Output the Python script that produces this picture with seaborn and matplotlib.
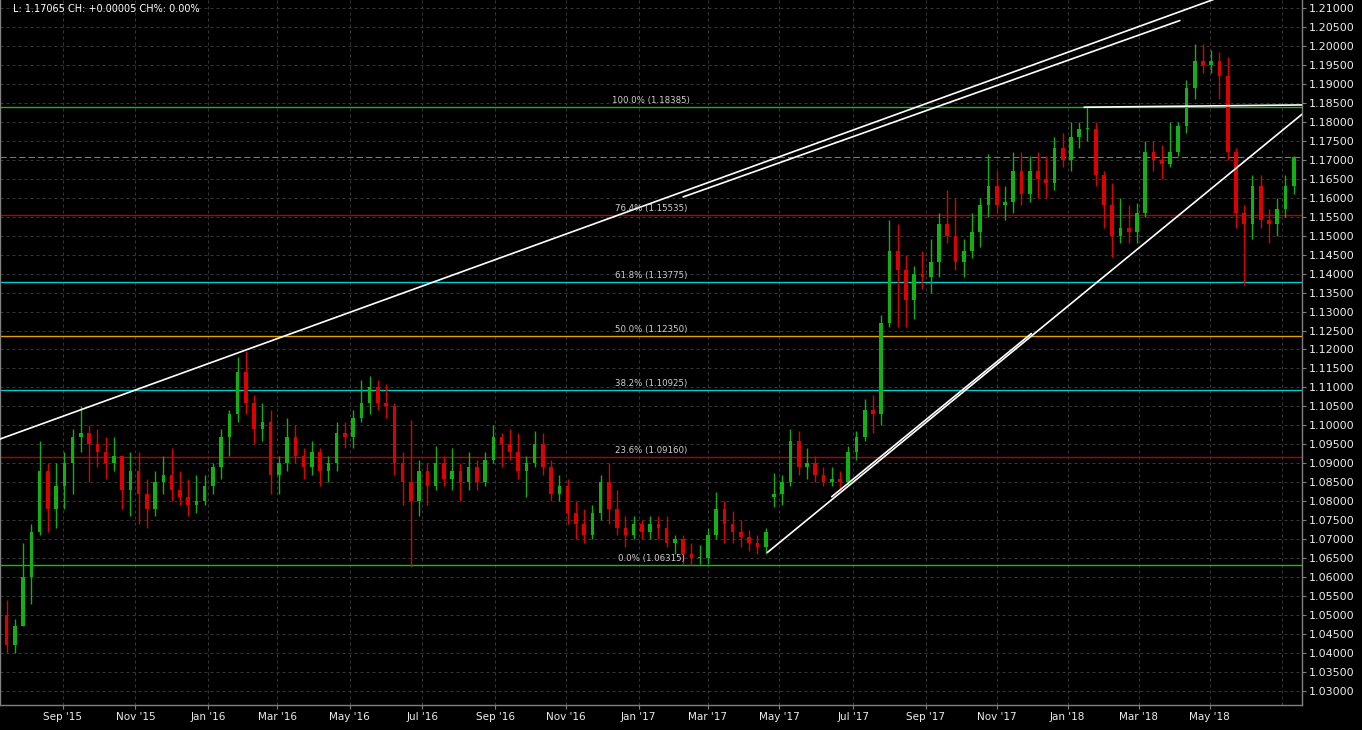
import numpy as np
import pandas as pd
import matplotlib
matplotlib.use("Agg")
import matplotlib.pyplot as plt
import matplotlib.transforms as mtransforms
import seaborn as sns

# ---------------- data (weekly OHLC) ----------------
week_start = pd.date_range("2015-07-13", periods=157, freq="W-MON")

opens = [1.050, 1.042, 1.047, 1.060, 1.072, 1.088, 1.078, 1.084, 1.090, 1.097,
         1.098, 1.095, 1.093, 1.090, 1.092, 1.083, 1.088, 1.082, 1.078, 1.085,
         1.087, 1.083, 1.081, 1.079, 1.080, 1.084, 1.089, 1.097, 1.103, 1.114,
         1.106, 1.099, 1.101, 1.087, 1.090, 1.097, 1.092, 1.089, 1.093, 1.088,
         1.090, 1.098, 1.097, 1.102, 1.106, 1.110, 1.106, 1.105, 1.090, 1.085,
         1.080, 1.088, 1.084, 1.090, 1.086, 1.088, 1.085, 1.089, 1.085, 1.091,
         1.097, 1.095, 1.093, 1.088, 1.090, 1.095, 1.089, 1.082, 1.084, 1.077,
         1.074, 1.071, 1.077, 1.085, 1.078, 1.073, 1.071, 1.074, 1.072, 1.074,
         1.073, 1.069, 1.070, 1.066, 1.065, 1.065, 1.071, 1.078, 1.074, 1.072,
         1.0705, 1.069, 1.068, 1.081, 1.082, 1.085, 1.096, 1.089, 1.090, 1.087,
         1.085, 1.086, 1.085, 1.093, 1.097, 1.104, 1.103, 1.127, 1.146, 1.141,
         1.133, 1.140, 1.139, 1.143, 1.153, 1.150, 1.143, 1.146, 1.151, 1.158,
         1.163, 1.158, 1.159, 1.167, 1.161, 1.167, 1.165, 1.164, 1.173, 1.170,
         1.176, 1.178, 1.178, 1.166, 1.158, 1.150, 1.152, 1.151, 1.156, 1.172,
         1.170, 1.169, 1.172, 1.179, 1.189, 1.196, 1.195, 1.196, 1.192, 1.172,
         1.156, 1.153, 1.163, 1.154, 1.153, 1.157, 1.163]
highs = [1.054, 1.049, 1.069, 1.074, 1.096, 1.090, 1.090, 1.093, 1.099, 1.105,
         1.100, 1.099, 1.097, 1.097, 1.092, 1.093, 1.093, 1.086, 1.088, 1.092,
         1.094, 1.088, 1.086, 1.087, 1.087, 1.090, 1.099, 1.104, 1.118, 1.1195,
         1.108, 1.106, 1.104, 1.092, 1.102, 1.100, 1.094, 1.096, 1.094, 1.092,
         1.101, 1.101, 1.104, 1.112, 1.113, 1.112, 1.111, 1.106, 1.093, 1.1015,
         1.091, 1.090, 1.0945, 1.092, 1.094, 1.090, 1.093, 1.091, 1.093, 1.100,
         1.098, 1.099, 1.098, 1.092, 1.0985, 1.098, 1.091, 1.087, 1.086, 1.080,
         1.078, 1.079, 1.087, 1.090, 1.083, 1.076, 1.076, 1.075, 1.076, 1.076,
         1.076, 1.071, 1.071, 1.069, 1.0685, 1.073, 1.0825, 1.080, 1.0775, 1.075,
         1.0725, 1.071, 1.073, 1.0875, 1.087, 1.099, 1.0985, 1.094, 1.092, 1.089,
         1.089, 1.088, 1.0945, 1.0985, 1.107, 1.108, 1.129, 1.154, 1.153, 1.145,
         1.142, 1.146, 1.149, 1.156, 1.162, 1.160, 1.149, 1.156, 1.160, 1.1715,
         1.167, 1.163, 1.172, 1.172, 1.171, 1.172, 1.171, 1.176, 1.177, 1.180,
         1.180, 1.18385, 1.180, 1.167, 1.164, 1.160, 1.158, 1.1585, 1.175, 1.175,
         1.174, 1.180, 1.180, 1.191, 1.2005, 1.2005, 1.199, 1.1985, 1.197, 1.173,
         1.158, 1.166, 1.166, 1.157, 1.160, 1.166, 1.171]
lows = [1.040, 1.040, 1.047, 1.053, 1.071, 1.072, 1.073, 1.078, 1.082, 1.093,
        1.085, 1.089, 1.086, 1.088, 1.078, 1.076, 1.074, 1.073, 1.076, 1.082,
        1.080, 1.079, 1.076, 1.077, 1.079, 1.082, 1.086, 1.092, 1.101, 1.103,
        1.095, 1.096, 1.082, 1.082, 1.088, 1.090, 1.086, 1.087, 1.084, 1.085,
        1.088, 1.094, 1.094, 1.101, 1.103, 1.104, 1.102, 1.087, 1.079, 1.0627,
        1.076, 1.079, 1.083, 1.084, 1.083, 1.080, 1.083, 1.083, 1.084, 1.090,
        1.089, 1.091, 1.086, 1.081, 1.089, 1.087, 1.080, 1.080, 1.074, 1.070,
        1.069, 1.070, 1.075, 1.074, 1.071, 1.068, 1.070, 1.070, 1.070, 1.070,
        1.068, 1.066, 1.0635, 1.06315, 1.0635, 1.0635, 1.070, 1.069, 1.069, 1.068,
        1.067, 1.066, 1.066, 1.0785, 1.079, 1.084, 1.087, 1.086, 1.085, 1.084,
        1.084, 1.083, 1.084, 1.091, 1.096, 1.098, 1.100, 1.126, 1.126, 1.126,
        1.128, 1.136, 1.135, 1.139, 1.148, 1.141, 1.139, 1.144, 1.147, 1.155,
        1.156, 1.154, 1.156, 1.158, 1.159, 1.160, 1.160, 1.162, 1.168, 1.167,
        1.173, 1.175, 1.163, 1.152, 1.1445, 1.148, 1.148, 1.148, 1.155, 1.167,
        1.165, 1.168, 1.171, 1.177, 1.186, 1.193, 1.193, 1.186, 1.170, 1.152,
        1.137, 1.149, 1.152, 1.148, 1.150, 1.155, 1.161]
closes = [1.042, 1.047, 1.060, 1.072, 1.088, 1.078, 1.084, 1.090, 1.097, 1.098,
          1.095, 1.093, 1.090, 1.092, 1.083, 1.088, 1.082, 1.078, 1.085, 1.087,
          1.083, 1.081, 1.079, 1.080, 1.084, 1.089, 1.097, 1.103, 1.114, 1.106,
          1.099, 1.101, 1.087, 1.090, 1.097, 1.092, 1.089, 1.093, 1.088, 1.090,
          1.098, 1.097, 1.102, 1.106, 1.110, 1.106, 1.105, 1.090, 1.085, 1.080,
          1.088, 1.084, 1.090, 1.086, 1.088, 1.085, 1.089, 1.085, 1.091, 1.097,
          1.095, 1.093, 1.088, 1.090, 1.095, 1.089, 1.082, 1.084, 1.077, 1.074,
          1.071, 1.077, 1.085, 1.078, 1.073, 1.071, 1.074, 1.072, 1.074, 1.073,
          1.069, 1.070, 1.066, 1.065, 1.065, 1.071, 1.078, 1.074, 1.072, 1.0705,
          1.069, 1.068, 1.072, 1.082, 1.085, 1.096, 1.089, 1.090, 1.087, 1.085,
          1.086, 1.085, 1.093, 1.097, 1.104, 1.103, 1.127, 1.146, 1.141, 1.133,
          1.140, 1.139, 1.143, 1.153, 1.150, 1.143, 1.146, 1.151, 1.158, 1.163,
          1.158, 1.159, 1.167, 1.161, 1.167, 1.165, 1.164, 1.173, 1.170, 1.176,
          1.178, 1.178, 1.166, 1.158, 1.150, 1.152, 1.151, 1.156, 1.172, 1.170,
          1.169, 1.172, 1.179, 1.189, 1.196, 1.195, 1.196, 1.192, 1.172, 1.156,
          1.153, 1.163, 1.154, 1.153, 1.157, 1.163, 1.17065]

fib_pct = ["0.0%", "23.6%", "38.2%", "50.0%", "61.8%", "76.4%", "100.0%"]
fib_levels = [1.06315, 1.09160, 1.10925, 1.12350, 1.13775, 1.15535, 1.18385]
fib_colors = ["#00cc00", "#b80000", "#00cccc", "#e6a000", "#00cccc", "#b80000", "#20b020"]

price_ticks = np.round(np.arange(1.03, 1.21001, 0.005), 3)
month_ticks = pd.date_range("2015-09-01", "2018-05-01", freq="2MS")
month_labels = [d.strftime("%b '%y") for d in month_ticks]
extra_grid_month = pd.Timestamp("2018-07-01")
last_price = 1.17065
header = "L: 1.17065 CH: +0.00005 CH%: 0.00%"

# trend lines: ((date, price), (date, price))
trend_lines = [
    (("2015-07-09", 1.0964), ("2018-05-07", 1.2125)),
    (("2017-02-08", 1.1602), ("2018-04-05", 1.2067)),
    (("2018-01-15", 1.18385), ("2018-07-18", 1.18445)),
    (("2017-04-20", 1.0665), ("2018-07-18", 1.1820)),
    (("2017-06-14", 1.0812), ("2017-11-30", 1.1242)),
]

# ---------------- style ----------------
sns.set_theme(style="dark", rc={
    "axes.facecolor": "black", "figure.facecolor": "black",
    "axes.edgecolor": "#808080", "grid.color": "#363636",
    "text.color": "white", "xtick.color": "#e8e8e8", "ytick.color": "#e8e8e8",
})
plt.rcParams["font.family"] = ["DejaVu Sans"]

bdays = pd.bdate_range("2015-07-06", "2018-12-31")


def bidx(dates):
    return bdays.get_indexer(pd.DatetimeIndex(pd.to_datetime(dates)), method="bfill").astype(float)


df = pd.DataFrame({"week": week_start, "open": opens, "high": highs,
                   "low": lows, "close": closes})
df["x"] = bidx(df["week"]) + 2
df["up"] = df["close"] >= df["open"]

fig = plt.figure(figsize=(13.62, 7.30), dpi=100)
ax = fig.add_axes([0, 25 / 730, 1302 / 1362, 705 / 730])
ax.set_facecolor("black")

# grid
ax.set_yticks(price_ticks)
ax.set_yticklabels([f"{p:.5f}" for p in price_ticks])
xt = bidx(month_ticks)
ax.set_xticks(xt)
ax.set_xticklabels(month_labels)
ax.grid(True, color="#363636", linestyle=(0, (3, 3)), linewidth=0.72, zorder=0)
ax.axvline(bidx([extra_grid_month])[0], color="#363636", linestyle=(0, (3, 3)),
           linewidth=0.72, zorder=0)

# fib levels
trans = mtransforms.blended_transform_factory(ax.transAxes, ax.transData)
for pct, lvl, col in zip(fib_pct, fib_levels, fib_colors):
    ax.axhline(lvl, color=col, linewidth=1.0, zorder=1)
    ax.annotate(f"{pct} ({lvl:.5f})", xy=(0.5, lvl), xycoords=trans,
                xytext=(0, 1.5), textcoords="offset points",
                ha="center", va="bottom", fontsize=6.2, color="#d0d0d0", zorder=6)

# last price line
ax.axhline(last_price, color="#7a7a7a", linestyle=(0, (6, 3)), linewidth=0.75, zorder=1)

# candles
green, red = "#12b012", "#dc0000"
cols = np.where(df["up"], green, red)
ax.vlines(df["x"], df["low"], df["high"], colors=cols, linewidth=1.0, zorder=3)
body_bottom = np.minimum(df["open"], df["close"])
body_h = np.maximum(np.abs(df["close"] - df["open"]), 0.0003)
ax.bar(df["x"], body_h, bottom=body_bottom, width=2.2, color=cols,
       linewidth=0, zorder=4)

# trend lines
for (d0, p0), (d1, p1) in trend_lines:
    xs = bidx([d0, d1])
    sns.lineplot(x=xs, y=[p0, p1], color="white", linewidth=1.2, ax=ax,
                 zorder=5, legend=False)

ax.set_xlim(3.0, 792.0)
ax.set_ylim(1.026309, 1.212108)

# axes & ticks
ax.yaxis.tick_right()
ax.tick_params(axis="y", which="both", right=True, left=False, length=3,
               width=0.8, color="#808080", labelsize=8, pad=2, labelcolor="#ececec")
ax.tick_params(axis="x", which="both", bottom=True, length=3, width=0.8,
               color="#808080", labelsize=7.5, pad=2, labelcolor="#ececec")
ax.spines["top"].set_visible(False)
for side in ["right", "bottom", "left"]:
    ax.spines[side].set_visible(True)
    ax.spines[side].set_color("#808080")
    ax.spines[side].set_linewidth(1.0)
ax.set_xlabel("")
ax.set_ylabel("")

fig.text(13 / 1362, 1 - 9 / 730, header, ha="left", va="center",
         fontsize=7, color="white")

fig.savefig("out.png", dpi=100, facecolor="black")
